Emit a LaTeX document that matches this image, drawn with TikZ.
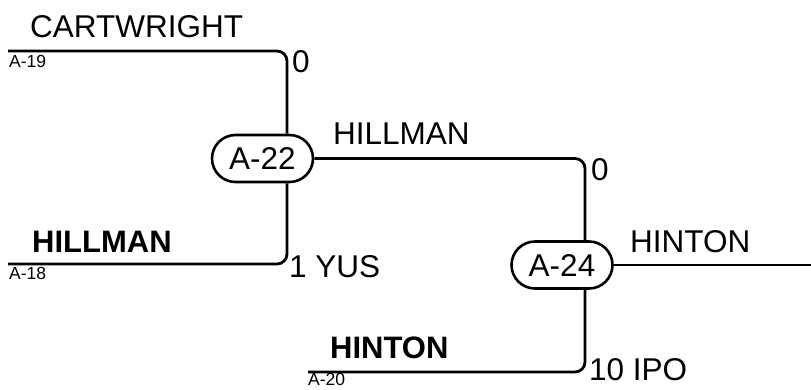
\documentclass[tikz,border=0pt]{standalone}
\usepackage{fontspec}
\setmainfont{Liberation Sans}
\usetikzlibrary{shapes.misc,calc}
\begin{document}
\begin{tikzpicture}[x=1pt,y=-1pt,
  big/.style={font=\fontsize{31.5}{36}\selectfont,inner sep=0pt,anchor=base west},
  bigb/.style={font=\fontsize{31}{36}\selectfont\bfseries,inner sep=0pt,anchor=base west},
  small/.style={font=\fontsize{17.5}{20}\selectfont,inner sep=0pt,anchor=base west},
  match/.style={draw,line width=2.6pt,rounded rectangle,minimum width=101pt,minimum height=47pt,inner sep=0pt,font=\fontsize{31.5}{36}\selectfont},
  wire/.style={line width=2.8pt,rounded corners=10pt}]
\useasboundingbox (0,0) rectangle (811,389);
% matches
\node[match] (a22) at (262.5,158.5) {A-22};
\node[match] (a24) at (562,265) {A-24};
% free ends
\coordinate (a19) at (8,51);
\coordinate (a18) at (8,264);
\coordinate (a20) at (308,372);
\coordinate (out) at (811,265);
% connectors
\draw[wire] (a19) -| ([xshift=24.5pt]a22.north);
\draw[wire] (a18) -| ([xshift=24.5pt]a22.south);
\draw[wire] (a22.east) -| ([xshift=23pt]a24.north);
\draw[wire] (a20) -| ([xshift=23pt]a24.south);
\draw[wire] (a24.east) -- (out);
% labels
\node[big] (l1) at (30,37) {CARTWRIGHT};
\node[small] (l2) at (9,67) {A-19};
\node[big] (l3) at (292,72) {0};
\node[big] (l4) at (333,144) {HILLMAN};
\node[big] (l5) at (591,180) {0};
\node[bigb] (l6) at (32,252) {HILLMAN};
\node[small] (l7) at (9,279) {A-18};
\node[big] (l8) at (289,277) {1 YUS};
\node[big] (l9) at (630,252) {HINTON};
\node[bigb] (l10) at (330,358) {HINTON};
\node[small] (l11) at (308,385.5) {A-20};
\node[big] (l12) at (589,380) {10 IPO};
\end{tikzpicture}
\end{document}
